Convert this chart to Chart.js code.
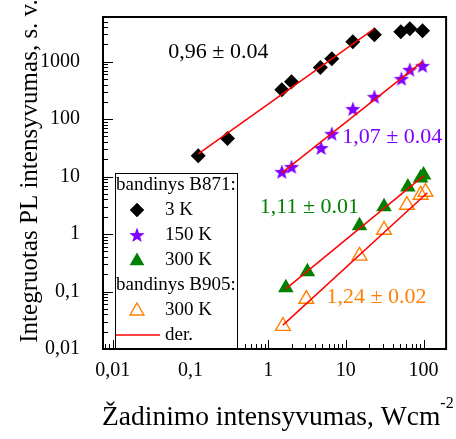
<!DOCTYPE html>
<html>
<head>
<meta charset="utf-8">
<script src="https://cdn.jsdelivr.net/npm/chart.js@4/dist/chart.umd.min.js"></script>
<style>
  html, body { margin: 0; padding: 0; background: #ffffff; }
  #wrap { width: 456px; height: 439px; }
</style>
</head>
<body>
<div id="wrap"><canvas id="c" width="456" height="439"></canvas></div>
<script>
// Excitation intensity (W/cm^2) and integrated PL intensity (arb. units)
const xB871_3K   = [0.126, 0.30, 1.50, 2.0, 4.7, 6.6, 12.3, 23.3, 51, 66.5, 97];
const yB871_3K   = [23, 46, 325, 450, 790, 1130, 2230, 2950, 3330, 3760, 3470];
const xB871_150K = [1.50, 2.0, 4.8, 6.6, 12.3, 23.3, 52, 66.5, 97];
const yB871_150K = [12.1, 14.8, 31.6, 55.7, 151, 245, 505, 726, 850];
const xB871_300K = [1.69, 3.2, 15.0, 31, 62.8, 91.6, 100];
const yB871_300K = [0.116, 0.22, 1.39, 2.98, 6.6, 9.5, 10.7];
const xB905_300K = [1.55, 3.1, 15, 31, 61, 91.6, 106];
const yB905_300K = [0.025, 0.074, 0.417, 1.18, 3.2, 4.8, 5.4];

// Power-law fits I = a * P^k : exponent, its error, prefactor, fitted P range
const fitSlopes   = [0.96, 1.07, 1.11, 1.24];
const fitErrors   = ['0.04', '0.04', '0.01', '0.02'];
const fitPrefacts = [182.6, 7.52, 0.062, 0.0151];
const fitFrom     = [0.126, 1.5, 1.69, 1.55];
const fitTo       = [23.3, 97, 100, 112];

// Axis ticks
const xTickValues = [0.01, 0.1, 1, 10, 100];
const xTickLabels = ['0,01', '0,1', '1', '10', '100'];
const yTickValues = [0.01, 0.1, 1, 10, 100, 1000];
const yTickLabels = ['0,01', '0,1', '1', '10', '100', '1000'];

const legendHeaders = ['bandinys B871:', 'bandinys B905:'];
const seriesNames = ['3 K', '150 K', '300 K', '300 K', 'der.'];

const FONT = '"Liberation Serif", "Times New Roman", serif';
const C_BLACK = '#000000', C_PURPLE = '#8000ff', C_GREEN = '#008000', C_ORANGE = '#ff8000', C_RED = '#ff0000';

function starPath(ctx, cx, cy, rOut, rIn) {
  ctx.beginPath();
  for (let i = 0; i < 10; i++) {
    const r = i % 2 === 0 ? rOut : rIn;
    const a = -Math.PI / 2 + i * Math.PI / 5;
    const px = cx + r * Math.cos(a), py = cy + r * Math.sin(a);
    if (i === 0) ctx.moveTo(px, py); else ctx.lineTo(px, py);
  }
  ctx.closePath();
}
function makeStar(size, color) {
  const cv = document.createElement('canvas');
  cv.width = size; cv.height = size;
  const g = cv.getContext('2d');
  g.fillStyle = color;
  starPath(g, size / 2, size / 2 + 0.6, size / 2, size / 2 * 0.42);
  g.fill();
  return cv;
}
const starImg = makeStar(16, C_PURPLE);

const pts = (xs, ys) => xs.map((x, i) => ({ x: x, y: ys[i] }));
const fitLine = i => [fitFrom[i], fitTo[i]].map(x => ({ x: x, y: fitPrefacts[i] * Math.pow(x, fitSlopes[i]) }));

const fitColors = [C_BLACK, C_PURPLE, C_GREEN, C_ORANGE];
// anchor of each exponent label (data coordinates, left / middle)
const fitLabelAt = [[0.052, 1435], [8.97, 49.3], [0.78, 2.98], [5.64, 0.0805]];

const datasets = [];
for (let i = 0; i < 4; i++) {
  datasets.push({
    type: 'line', data: fitLine(i), borderColor: C_RED, borderWidth: 1.5,
    pointRadius: 0, showLine: true, fill: false, order: 0
  });
}
datasets.push(
  { type: 'scatter', data: pts(xB871_3K, yB871_3K), pointStyle: 'rectRot', pointRadius: 7.5,
    backgroundColor: C_BLACK, borderColor: C_BLACK, borderWidth: 0, order: 5 },
  { type: 'scatter', data: pts(xB871_150K, yB871_150K), pointStyle: starImg, pointRadius: 8,
    backgroundColor: C_PURPLE, borderColor: C_PURPLE, order: 5 },
  { type: 'scatter', data: pts(xB871_300K, yB871_300K), pointStyle: 'triangle', pointRadius: 9,
    backgroundColor: C_GREEN, borderColor: C_GREEN, borderWidth: 0, order: 5 },
  { type: 'scatter', data: pts(xB905_300K, yB905_300K), pointStyle: 'triangle', pointRadius: 8.5,
    backgroundColor: 'rgba(255,255,255,0)', borderColor: C_ORANGE, borderWidth: 1.4, order: 5 }
);

const frameAndTicks = {
  id: 'frameAndTicks',
  afterDraw(chart) {
    const ctx = chart.ctx, a = chart.chartArea;
    const xs = chart.scales.x, ys = chart.scales.y;
    ctx.save();
    ctx.strokeStyle = '#000'; ctx.lineWidth = 1;
    // inward log ticks
    const eachTick = (scale, cb) => {
      const e0 = Math.floor(Math.log10(scale.min)), e1 = Math.ceil(Math.log10(scale.max));
      for (let e = e0; e <= e1; e++) for (let m = 1; m <= 9; m++) {
        const v = m * Math.pow(10, e);
        if (v < scale.min || v > scale.max) continue;
        cb(Math.round(scale.getPixelForValue(v)) + 0.5, m === 1);
      }
    };
    ctx.beginPath();
    eachTick(xs, (p, major) => { const l = major ? 9 : 5; ctx.moveTo(p, a.bottom); ctx.lineTo(p, a.bottom - l); });
    eachTick(ys, (p, major) => { const l = major ? 10 : 5; ctx.moveTo(a.left, p); ctx.lineTo(a.left + l, p); });
    ctx.stroke();
    ctx.lineWidth = 2;
    ctx.strokeRect(a.left, a.top, a.right - a.left, a.bottom - a.top);

    // exponent labels
    ctx.font = '22px ' + FONT;
    ctx.textBaseline = 'middle'; ctx.textAlign = 'left';
    for (let i = 0; i < 4; i++) {
      ctx.fillStyle = fitColors[i];
      const at = fitLabelAt[i];
      ctx.fillText(fitSlopes[i].toFixed(2).replace('.', ',') + ' \u00b1 ' + fitErrors[i],
                   xs.getPixelForValue(at[0]), ys.getPixelForValue(at[1]));
    }

    // axis titles
    ctx.fillStyle = '#000';
    ctx.textBaseline = 'alphabetic';
    ctx.font = '27.5px ' + FONT;
    const xt = '\u017dadinimo intensyvumas, Wcm';
    ctx.fillText(xt, 102, 425);
    const w = ctx.measureText(xt).width;
    ctx.font = '16px ' + FONT;
    ctx.fillText('-2', 102 + w, 408);
    ctx.save();
    ctx.translate(37, 171);
    ctx.rotate(-Math.PI / 2);
    ctx.textAlign = 'center';
    ctx.font = '25px ' + FONT;
    ctx.fillText('Integruotas PL intensyvumas, s. v.', 0, 0);
    ctx.restore();

    // legend
    const L = 115, T = 173, R = 238, B = a.bottom;
    ctx.fillStyle = '#fff';
    ctx.fillRect(L, T, R - L, B - T);
    ctx.lineWidth = 1; ctx.strokeStyle = '#000';
    ctx.strokeRect(L + 0.5, T + 0.5, R - L - 1, B - T - 1);
    ctx.font = '19px ' + FONT;
    ctx.fillStyle = '#000'; ctx.textBaseline = 'middle';
    const sx = 137, tx = 165;
    ctx.fillText(legendHeaders[0], 116, 185);
    ctx.fillText(seriesNames[0], tx, 210);
    ctx.fillText(seriesNames[1], tx, 235);
    ctx.fillText(seriesNames[2], tx, 260);
    ctx.fillText(legendHeaders[1], 116, 285);
    ctx.fillText(seriesNames[3], tx, 310);
    ctx.fillText(seriesNames[4], tx, 335);
    const dp = Chart.helpers.drawPoint;
    dp(ctx, { pointStyle: 'rectRot', radius: 7, borderWidth: 0 }, sx, 210);
    ctx.fillStyle = C_BLACK; ctx.fill();
    ctx.drawImage(starImg, sx - 8, 235 - 8);
    ctx.fillStyle = C_GREEN; ctx.strokeStyle = C_GREEN;
    dp(ctx, { pointStyle: 'triangle', radius: 8.5, borderWidth: 0 }, sx, 261);
    ctx.fillStyle = 'rgba(0,0,0,0)'; ctx.strokeStyle = C_ORANGE; ctx.lineWidth = 1.4;
    dp(ctx, { pointStyle: 'triangle', radius: 8, borderWidth: 1.4 }, sx, 311);
    ctx.beginPath();
    ctx.strokeStyle = C_RED; ctx.lineWidth = 1.5;
    ctx.moveTo(L + 1, 335); ctx.lineTo(160, 335); ctx.stroke();
    ctx.restore();
  }
};

new Chart(document.getElementById('c'), {
  type: 'scatter',
  data: { datasets: datasets },
  options: {
    responsive: false,
    animation: false,
    devicePixelRatio: 1,
    layout: { padding: { left: 0, right: 3, top: 17, bottom: 0 } },
    plugins: { legend: { display: false }, tooltip: { enabled: false } },
    scales: {
      x: {
        type: 'logarithmic', min: 0.0075, max: 195,
        grid: { display: false }, border: { display: false },
        afterBuildTicks: s => { s.ticks = xTickValues.map(v => ({ value: v })); },
        afterFit: s => { s.height = 90; s.paddingLeft = 0; s.paddingRight = 0; },
        ticks: {
          autoSkip: false, maxRotation: 0, padding: 2, color: '#000',
          font: { family: FONT, size: 20 },
          callback: v => { const i = xTickValues.indexOf(v); return i >= 0 ? xTickLabels[i] : ''; }
        }
      },
      y: {
        type: 'logarithmic', min: 0.01, max: 6000,
        grid: { display: false }, border: { display: false },
        afterBuildTicks: s => { s.ticks = yTickValues.map(v => ({ value: v })); },
        afterFit: s => { s.width = 103; s.paddingTop = 0; s.paddingBottom = 0; },
        ticks: {
          autoSkip: false, padding: 15, color: '#000',
          font: { family: FONT, size: 20 },
          callback: v => { const i = yTickValues.indexOf(v); return i >= 0 ? yTickLabels[i] : ''; }
        }
      }
    }
  },
  plugins: [frameAndTicks]
});
</script>
</body>
</html>
